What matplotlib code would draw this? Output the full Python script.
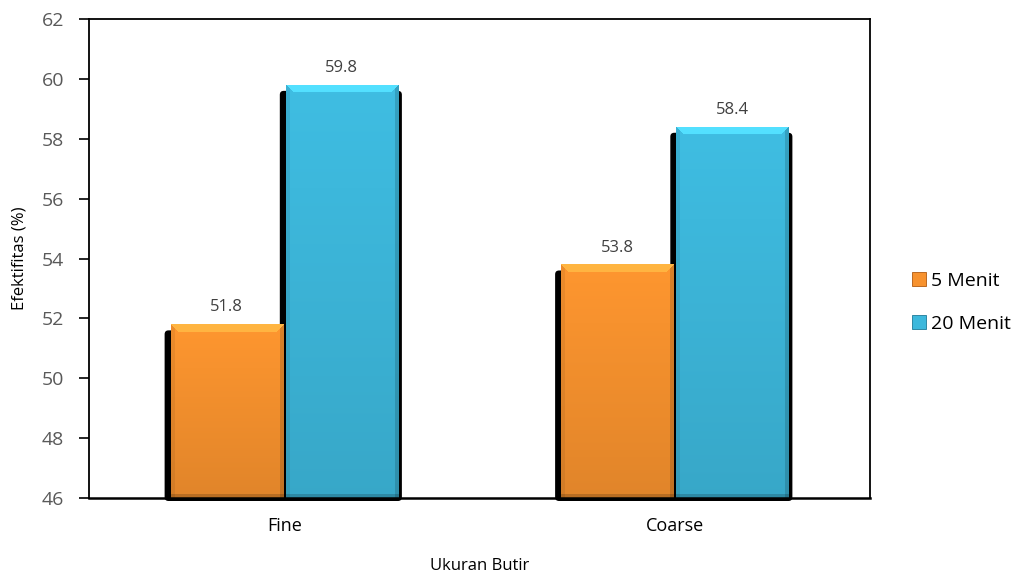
import numpy as np
import matplotlib.pyplot as plt
from matplotlib.patches import Patch, FancyBboxPatch
from matplotlib.colors import to_rgb

plt.rcParams['font.family'] = ['Open Sans', 'DejaVu Sans']

categories = ['Fine', 'Coarse']
menit_5 = [51.8, 53.8]
menit_20 = [59.8, 58.4]
series_names = ['5 Menit', '20 Menit']

orange = '#F7922E'
cyan = '#3DB8DC'


def bevel_image(color, w_px, h_px, edge=8):
    # vertical shading plus a light top bevel and darker side/bottom bevels
    base = np.array(to_rgb(color))
    h_px, w_px = max(int(h_px), 2), max(int(w_px), 2)
    yy, xx = np.mgrid[0:h_px, 0:w_px]
    shade = 1.03 - 0.12 * (yy / h_px)
    img = base[None, None, :] * shade[..., None]
    top = (yy < edge) & (xx >= yy) & (w_px - 1 - xx >= yy)
    bottom = (h_px - 1 - yy < 4)
    left = (xx < 4) & ~top
    right = (w_px - 1 - xx < 4) & ~top
    img[top] = np.clip(img[top] * 1.12 + 0.05, 0, 1)
    img[left] = img[left] * 0.93
    img[right] = img[right] * 0.85
    img[bottom] = img[bottom] * 0.82
    return np.clip(img, 0, 1)


fig = plt.figure(figsize=(10.23, 5.79), dpi=100)
ax = fig.add_axes([89 / 1023, 81 / 579, 781 / 1023, 479 / 579])

x = np.arange(len(categories))
width = 0.287
gap = 0.004
ax.set_xlim(-0.5, 1.5)
ax.set_ylim(46, 62)

bars_a = ax.bar(x - width / 2 - gap, menit_5, width, color=orange, zorder=3)
bars_b = ax.bar(x + width / 2 + gap, menit_20, width, color=cyan, zorder=3)

fig.canvas.draw()
# data units per screen pixel
dx = (ax.get_xlim()[1] - ax.get_xlim()[0]) / ax.bbox.width
dy = (ax.get_ylim()[1] - ax.get_ylim()[0]) / ax.bbox.height

for bars, col in [(bars_a, orange), (bars_b, cyan)]:
    for rect in bars:
        x0, w = rect.get_x(), rect.get_width()
        top = rect.get_height()
        # dark drop shadow sitting behind every bar
        sh = FancyBboxPatch((x0 - 6 * dx, 46 - 3 * dy), w + 10 * dx, top - 46 - 3 * dy,
                            boxstyle='round,pad=0,rounding_size=0.01',
                            mutation_aspect=dy / dx, facecolor='black',
                            edgecolor='none', zorder=1, clip_on=False)
        ax.add_patch(sh)
        p0 = ax.transData.transform((x0, 46))
        p1 = ax.transData.transform((x0 + w, top))
        img = bevel_image(col, p1[0] - p0[0], p1[1] - p0[1])
        im = ax.imshow(img, extent=(x0, x0 + w, 46, top), aspect='auto',
                       origin='upper', zorder=4, interpolation='nearest')
        im.set_clip_path(rect)
        ax.text(x0 + w / 2, top + 0.3, f'{top:.1f}', ha='center', va='bottom',
                fontsize=12, color='#404040', zorder=5)

ax.set_xticks(x)
ax.set_xticklabels(categories)
ax.set_yticks(np.arange(46, 63, 2))
ax.tick_params(axis='y', direction='out', length=7, width=1.2, labelsize=14,
               labelcolor='#595959', pad=11)
ax.tick_params(axis='x', length=0, labelsize=13, labelcolor='black', pad=14)
for s in ax.spines.values():
    s.set_linewidth(1.3)
    s.set_color('black')
    s.set_zorder(6)
ax.spines['bottom'].set_linewidth(1.8)

ax.set_ylabel('Efektifitas (%)', fontsize=12, labelpad=10)
ax.set_xlabel('Ukuran Butir', fontsize=12, labelpad=16)

handles = [Patch(facecolor=orange, edgecolor='#B05A10', linewidth=0.6),
           Patch(facecolor=cyan, edgecolor='#1E7A98', linewidth=0.6)]
fig.legend(handles, series_names, loc='center left', bbox_to_anchor=(912 / 1023, 0.478),
           frameon=False, fontsize=14, handlelength=0.7, handleheight=0.7,
           handletextpad=0.3, labelspacing=1.3, borderaxespad=0, borderpad=0)

fig.savefig('out.png', dpi=100)
